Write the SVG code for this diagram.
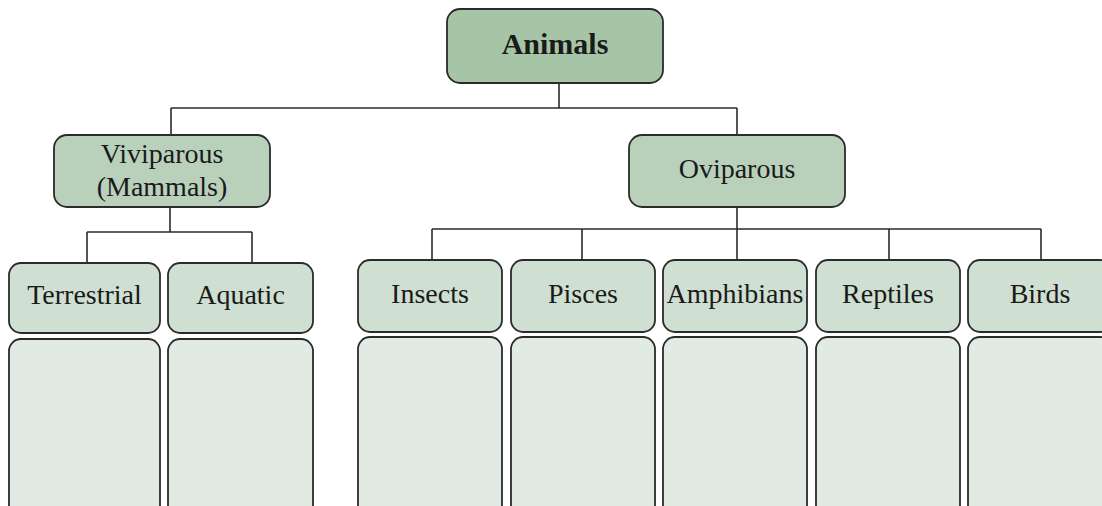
<svg xmlns="http://www.w3.org/2000/svg" width="1102" height="506" viewBox="0 0 1102 506">
<style>
.box{stroke:#2b2b2b;stroke-width:1.8}
.l1{fill:#a6c5a6}
.l2{fill:#b9d1bb}
.l3{fill:#cfdfd1}
.l4{fill:#e2ebe3}
.t{font-family:"Liberation Serif","Times New Roman",serif;font-size:28px;fill:#1a1a1a;text-anchor:middle}
.b{font-weight:bold;font-size:30px}
.c{fill:none;stroke:#2b2b2b;stroke-width:1.6}
</style>
<rect width="1102" height="506" fill="#ffffff"/>
<g id="connectors">
<path class="c" d="M559 83V108M171 108H737M171 108V135M737 108V135"/>
<path class="c" d="M170 207V232M87 232H252M87 232V263M252 232V263"/>
<path class="c" d="M737 207V229M432 229H1041M432 229V260M582 229V260M737 229V260M889 229V260M1041 229V260"/>
</g>
<g id="animals"><rect class="box l1" x="447" y="9" width="216" height="74" rx="13"/><text class="t b" x="555" y="54">Animals</text></g>
<g id="viviparous"><rect class="box l2" x="54" y="135" width="216" height="72" rx="13"/><text class="t" x="162" y="163">Viviparous</text><text class="t" x="162" y="196">(Mammals)</text></g>
<g id="oviparous"><rect class="box l2" x="629" y="135" width="216" height="72" rx="13"/><text class="t" x="737" y="178">Oviparous</text></g>
<g id="terrestrial"><rect class="box l3" x="9" y="263" width="151" height="70" rx="12"/><text class="t" x="84.5" y="304">Terrestrial</text></g>
<g id="aquatic"><rect class="box l3" x="168" y="263" width="145" height="70" rx="12"/><text class="t" x="240.5" y="304">Aquatic</text></g>
<g id="insects"><rect class="box l3" x="358" y="260" width="144" height="72" rx="12"/><text class="t" x="430" y="303">Insects</text></g>
<g id="pisces"><rect class="box l3" x="511" y="260" width="144" height="72" rx="12"/><text class="t" x="583" y="303">Pisces</text></g>
<g id="amphibians"><rect class="box l3" x="663" y="260" width="144" height="72" rx="12"/><text class="t" x="735" y="303">Amphibians</text></g>
<g id="reptiles"><rect class="box l3" x="816" y="260" width="144" height="72" rx="12"/><text class="t" x="888" y="303">Reptiles</text></g>
<g id="birds"><rect class="box l3" x="968" y="260" width="144" height="72" rx="12"/><text class="t" x="1040" y="303">Birds</text></g>
<g id="terrestrial-list"><rect class="box l4" x="9" y="339" width="151" height="190" rx="12"/></g>
<g id="aquatic-list"><rect class="box l4" x="168" y="339" width="145" height="190" rx="12"/></g>
<g id="insects-list"><rect class="box l4" x="358" y="337" width="144" height="190" rx="12"/></g>
<g id="pisces-list"><rect class="box l4" x="511" y="337" width="144" height="190" rx="12"/></g>
<g id="amphibians-list"><rect class="box l4" x="663" y="337" width="144" height="190" rx="12"/></g>
<g id="reptiles-list"><rect class="box l4" x="816" y="337" width="144" height="190" rx="12"/></g>
<g id="birds-list"><rect class="box l4" x="968" y="337" width="144" height="190" rx="12"/></g>
</svg>
